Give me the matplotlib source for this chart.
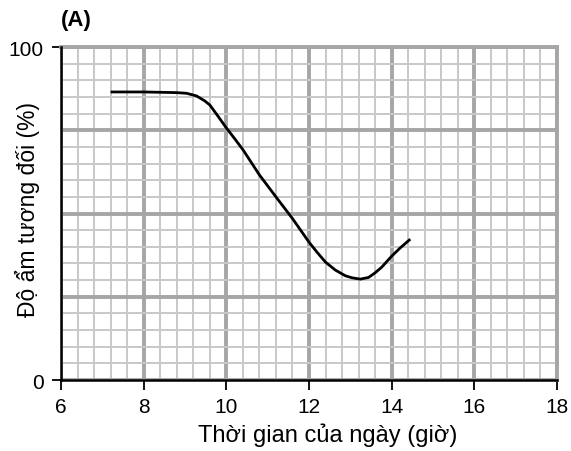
import matplotlib
matplotlib.use("Agg")
import matplotlib.pyplot as plt
from matplotlib.ticker import MultipleLocator

plt.rcParams['font.family'] = ['Liberation Sans', 'DejaVu Sans']

hours = [7.2, 7.6, 8.0, 8.4, 8.8, 9.04, 9.28, 9.48, 9.6, 9.8, 10.0, 10.2, 10.4, 10.8,
         11.2, 11.6, 12.0, 12.2, 12.4, 12.64, 12.88, 13.04, 13.24, 13.44, 13.6,
         13.76, 14.0, 14.2, 14.45]
humidity = [86.5, 86.5, 86.5, 86.4, 86.3, 86.1, 85.3, 83.8, 82.6, 79.2, 75.7, 72.5, 69.2,
            61.6, 55.0, 48.5, 41.4, 38.3, 35.4, 33.0, 31.3, 30.7, 30.3, 30.8, 32.2,
            33.9, 37.2, 39.6, 42.3]

xticks = [6, 8, 10, 12, 14, 16, 18]
ytick_labels = ['0', '', '', '', '100']

fig = plt.figure(figsize=(5.71, 4.52), dpi=100)
ax = fig.add_axes([0.1068, 0.157, 0.8687, 0.7368])

ax.set_xlim(6, 18)
ax.set_ylim(0, 100)

ax.xaxis.set_minor_locator(MultipleLocator(0.4))
ax.yaxis.set_minor_locator(MultipleLocator(5))
ax.xaxis.set_major_locator(MultipleLocator(2))
ax.yaxis.set_major_locator(MultipleLocator(25))

ax.grid(which='minor', color='#c8c8c8', linewidth=1.4, zorder=0)
ax.grid(which='major', color='#a6a6a6', linewidth=2.8, zorder=1)
ax.set_axisbelow(True)

ax.plot(hours, humidity, color='black', linewidth=2.0, zorder=5,
        solid_capstyle='butt', solid_joinstyle='round')

ax.set_xticks(xticks)
ax.set_xticklabels([str(t) for t in xticks], fontsize=15)
ax.set_yticks([0, 25, 50, 75, 100])
ax.set_yticklabels(ytick_labels, fontsize=15)
ax.tick_params(which='minor', length=0)
ax.tick_params(axis='x', which='major', length=7, width=1.3, direction='out', pad=5)
ax.tick_params(axis='y', which='major', length=6.5, width=1.3, direction='out', pad=6)
for t in ax.yaxis.get_major_ticks()[1:4]:
    t.tick1line.set_visible(False)

for side in ['top', 'right']:
    ax.spines[side].set_color('#a6a6a6')
    ax.spines[side].set_linewidth(2.8)
for side in ['left', 'bottom']:
    ax.spines[side].set_color('black')
    ax.spines[side].set_linewidth(1.8)
    ax.spines[side].set_zorder(6)

ax.set_xlabel('Thời gian của ngày (giờ)', fontsize=17)
ax.xaxis.set_label_coords(0.538, -0.128)
ax.set_ylabel('Độ ẩm tương đối (%)', fontsize=16.5)
ax.yaxis.set_label_coords(-0.042, 0.515)

fig.text(0.107, 0.955, '(A)', fontsize=16, fontweight='bold', ha='left', va='center')

fig.savefig('out.png', dpi=100)
